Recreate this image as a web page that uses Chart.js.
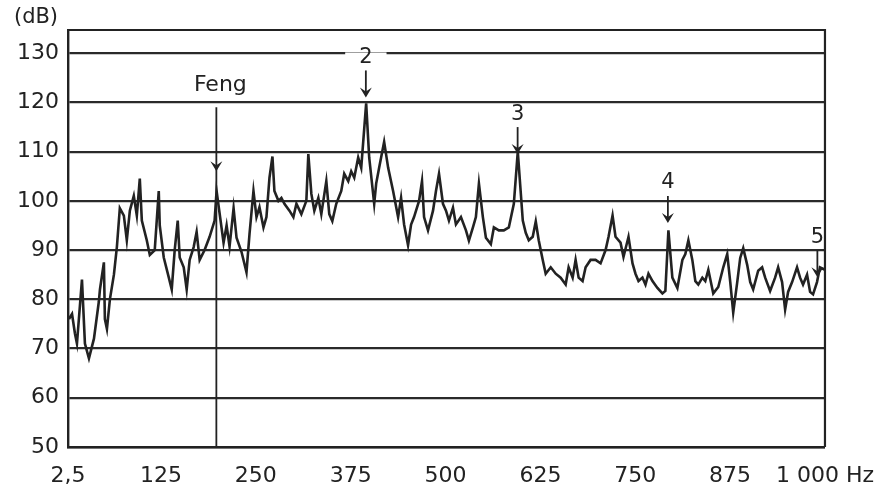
<!DOCTYPE html>
<html lang="en">
<head>
  <meta charset="UTF-8">
  <title>Noise spectrum</title>
  <script src="https://cdn.jsdelivr.net/npm/chart.js"></script>
  <style>
    html, body { margin: 0; padding: 0; background: #fff; }
    #wrap { width: 882px; height: 486px; position: relative; }
  </style>
</head>
<body>
<div id="wrap"><canvas id="spectrum"></canvas></div>

<script>
  // frequency (Hz) and level (dB)
  const freqHz = [
    3.8, 7.8, 11.7, 14.3, 20.9, 24.8, 30.1, 36.7, 43.2, 44.6, 49.8, 51.1, 53.8, 57.7, 63.0, 66.9,
    70.8, 76.1, 80.0, 84.0, 89.2, 93.2, 97.1, 99.8, 106.3, 110.3, 116.8, 122.1, 123.4, 128.7, 135.2,
    139.2, 143.1, 147.1, 149.7, 155.0, 158.9, 162.8, 168.1, 172.0, 176.0, 182.5, 189.1, 195.7, 198.3,
    207.5, 211.5, 215.4, 220.7, 224.6, 231.2, 237.7, 241.7, 246.9, 250.9, 254.8, 260.1, 264.0, 268.0,
    271.9, 274.5, 279.8, 283.7, 287.7, 294.3, 299.5, 303.5, 310.0, 316.6, 319.2, 323.2, 327.1, 332.4,
    336.3, 342.9, 346.8, 350.8, 356.0, 362.6, 366.5, 371.8, 375.7, 379.7, 384.9, 388.9, 395.4,
    399.4, 406.0, 408.6, 412.5, 419.1, 424.4, 430.9, 437.5, 441.4, 445.4, 450.6, 454.6, 458.5, 465.1,
    469.0, 471.7, 476.9, 483.5, 487.4, 491.4, 496.6, 500.6, 504.5, 509.8, 513.7, 520.3, 526.9, 530.8,
    536.1, 540.0, 544.0, 549.2, 553.2, 559.7, 563.7, 570.2, 576.8, 583.4, 590.0, 595.2,
    601.8, 605.7, 609.7, 614.9, 618.9, 622.8, 628.1, 632.0, 638.6, 645.2, 651.7, 658.3, 662.2, 667.5,
    671.4, 675.4, 680.6, 684.6, 691.1, 697.7, 704.3, 710.9, 714.8, 720.1, 724.0, 730.6, 734.5, 741.1,
    746.4, 750.3, 754.3, 759.5, 763.5, 767.4, 772.7, 779.2, 785.8, 789.7, 793.7,
    798.9, 805.5, 812.1, 816.0, 820.0, 825.2, 829.2, 833.1, 838.4, 842.3, 846.3, 852.8, 859.4, 866.0,
    871.2, 875.2, 879.1, 884.4, 888.3, 892.3, 897.5, 901.5, 905.4, 912.0, 917.2, 921.2, 927.7, 934.3,
    938.3, 943.5, 947.5, 951.4, 956.7, 963.2, 967.2, 971.1, 976.4, 980.4, 984.3, 989.5, 993.4, 1000
  ];
  const levelDb = [
    76, 77, 73, 71, 84, 71, 68, 72, 79.6, 82, 87.5, 76, 74, 80, 85, 90.6,
    98.5, 97, 92, 98, 101, 97, 104.5, 96, 92, 89, 90, 102, 95, 88.5, 84.5,
    82, 90, 96, 88.5, 86.5, 82, 88, 90.6, 93.7, 88, 90, 92.7, 96, 102,
    91.5, 95, 90.7, 98.5, 92.5, 89.6, 85.5, 93.3, 102, 96.7, 98.7, 94.6, 96.7, 104.7,
    109, 102, 100, 100.6, 99.4, 98, 96.7, 99.4, 97.3, 100, 109.5, 101.4, 98, 100.6,
    97.3, 104, 97.3, 95.9, 99.4, 102, 105.5, 104, 106, 104.7, 108.8, 106.7, 119.8,
    108.8, 99.4, 103.5, 106.7, 112, 106.7, 102, 96.7, 100.6, 95.2, 91, 95.2, 96.7, 100,
    104, 96.7, 94, 98, 102, 105.5, 99.4, 98, 96, 98.6, 95.2, 96.7, 94, 91.9,
    94.6, 96.7, 103.5, 96.7, 92.5, 91.2, 94.6, 94, 94, 94.6, 99.4, 110,
    96, 93.5, 92, 92.7, 95.8, 92, 88, 85.2, 86.5, 85.2, 84.4, 83, 86.5, 84.4,
    88, 84.4, 83.7, 86.5, 88, 88, 87.3, 90, 92.7, 97, 92.7, 91.5, 88.6, 92.7,
    87.3, 85.2, 83.7, 84.4, 83, 85.2, 83.7, 82.3, 81.2, 81.7, 94,
    84.4, 82.3, 88, 89.2, 92, 88, 83.7, 83, 84.4, 83.7, 86, 81.2, 82.5, 86.5,
    89.2, 83.5, 77.3, 83.5, 88.4, 90.4, 87, 83.5, 82, 85.8, 86.5, 84.4, 81.7, 84.4,
    86.5, 83.5, 77.9, 81.5, 83.5, 86.5, 84.4, 83, 85, 81.5, 81, 83.5, 86.5, 86
  ];

  const tickHz = [2.5, 125, 250, 375, 500, 625, 750, 875, 1000];
  const tickLabels = ['2,5', '125', '250', '375', '500', '625', '750', '875', '1 000 Hz'];
  const yTicks = [50, 60, 70, 80, 90, 100, 110, 120, 130];

  // annotated peaks: Feng plus harmonics 2..5
  const markerHz = [198, 395, 595, 793, 990];
  const markerTipDb = [106, 121, 109.5, 95.5, 84.5];
  const markerLabels = ['Feng', '2', '3', '4', '5'];

  const ink = '#222';
  const font = 'DejaVu Sans';

  function arrowHead(ctx, x, y) {
    ctx.beginPath();
    ctx.moveTo(x - 6, y - 10);
    ctx.lineTo(x, y);
    ctx.lineTo(x + 6, y - 10);
    ctx.lineTo(x, y - 6);
    ctx.closePath();
    ctx.fill();
  }

  const annotations = {
    id: 'annotations',
    afterDatasetsDraw(chart) {
      const { ctx, chartArea: a, scales: { x, y } } = chart;
      ctx.save();
      ctx.strokeStyle = ink;
      ctx.fillStyle = ink;
      ctx.textAlign = 'center';
      ctx.textBaseline = 'middle';

      ctx.font = '21px "' + font + '"';
      ctx.fillText('(dB)', 36, 18);

      const gridPx = yTicks.map(v => y.getPixelForValue(v));

      markerHz.forEach((hz, i) => {
        const px = x.getPixelForValue(hz);
        const tip = y.getPixelForValue(markerTipDb[i]);
        ctx.lineWidth = 1.8;
        if (i === 0) {
          const top = tip - 64;
          ctx.beginPath();
          ctx.moveTo(px, top);
          ctx.lineTo(px, a.bottom);
          ctx.stroke();
          arrowHead(ctx, px, tip);
          ctx.font = '22px "' + font + '"';
          ctx.fillText(markerLabels[i], px + 4, top - 22);
        } else {
          const top = tip - 27;
          ctx.beginPath();
          ctx.moveTo(px, top);
          ctx.lineTo(px, tip - 4);
          ctx.stroke();
          arrowHead(ctx, px, tip);
          ctx.font = '21px "' + font + '"';
          const ly = top - 13;
          // clear the grid line behind a label that sits on it
          if (gridPx.some(g => Math.abs(g - ly) < 7)) {
            const w = ctx.measureText(markerLabels[i]).width;
            ctx.fillStyle = '#fff';
            ctx.fillRect(px - w / 2 - 14, ly - 5, w + 28, 10);
            ctx.fillStyle = ink;
          }
          ctx.fillText(markerLabels[i], px, ly);
        }
      });

      // frame top + right
      ctx.lineWidth = 2.2;
      ctx.beginPath();
      ctx.moveTo(a.left, a.top);
      ctx.lineTo(a.right, a.top);
      ctx.lineTo(a.right, a.bottom);
      ctx.stroke();
      ctx.restore();
    }
  };

  new Chart(document.getElementById('spectrum'), {
    type: 'line',
    data: {
      datasets: [{
        data: freqHz.map((f, i) => ({ x: f, y: levelDb[i] })),
        borderColor: ink,
        borderWidth: 2.6,
        pointRadius: 0,
        tension: 0,
        fill: false
      }]
    },
    options: {
      responsive: true,
      maintainAspectRatio: false,
      animation: false,
      layout: { padding: { top: 30, right: 55, left: 0, bottom: 0 } },
      plugins: { legend: { display: false }, tooltip: { enabled: false } },
      scales: {
        x: {
          type: 'linear',
          min: 2.5,
          max: 1000,
          afterBuildTicks: s => { s.ticks = tickHz.map(v => ({ value: v })); },
          afterFit: s => { s.height = 39; },
          grid: { display: false },
          border: { display: true, color: ink, width: 2.4 },
          ticks: {
            color: ink,
            font: { family: font, size: 22 },
            padding: 8,
            maxRotation: 0,
            autoSkip: false,
            callback: (v, i) => tickLabels[i]
          }
        },
        y: {
          min: 50,
          max: 134.7,
          afterBuildTicks: s => { s.ticks = yTicks.map(v => ({ value: v })); },
          afterFit: s => { s.width = 68; },
          grid: { color: '#2a2a2a', lineWidth: 2.2, drawTicks: false },
          border: { display: true, color: ink, width: 2.4 },
          ticks: {
            color: ink,
            font: { family: font, size: 22 },
            padding: 9
          }
        }
      }
    },
    plugins: [annotations]
  });
</script>
</body>
</html>
